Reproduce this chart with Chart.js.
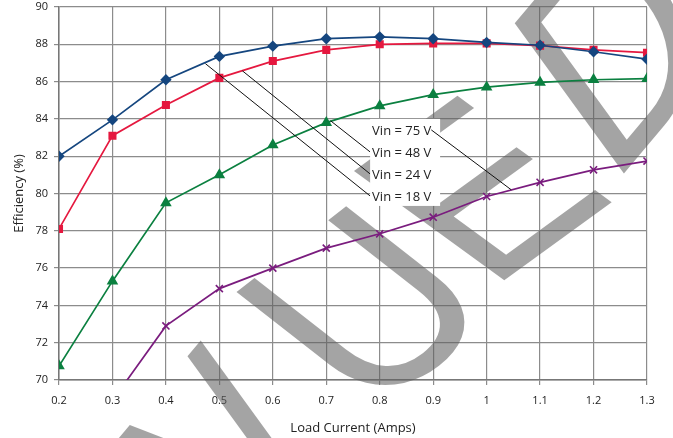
<!DOCTYPE html>
<html>
<head>
<meta charset="utf-8">
<script src="https://cdn.jsdelivr.net/npm/chart.js@4.4.1/dist/chart.umd.min.js"></script>
<style>
  html, body { margin: 0; padding: 0; background: #fff; }
  #chart { display: block; }
</style>
</head>
<body>
<canvas id="chart" width="673" height="438"></canvas>
<script>
// load current (A)
const loadCurrent = [0.2, 0.3, 0.4, 0.5, 0.6, 0.7, 0.8, 0.9, 1.0, 1.1, 1.2, 1.3];

// efficiency (%) per input voltage
const eff18 = [82.0, 83.95, 86.1, 87.35, 87.9, 88.3, 88.4, 88.3, 88.1, 87.95, 87.6, 87.2];
const eff24 = [78.1, 83.1, 84.75, 86.2, 87.1, 87.7, 88.0, 88.05, 88.05, 87.93, 87.7, 87.55];
const eff48 = [70.75, 75.3, 79.5, 81.0, 82.6, 83.8, 84.7, 85.3, 85.7, 85.96, 86.1, 86.16];
const eff75 = [null, 68.9, 72.9, 74.9, 76.0, 77.07, 77.84, 78.73, 79.84, 80.6, 81.27, 81.74];

const seriesNames = ["Vin = 18 V", "Vin = 24 V", "Vin = 48 V", "Vin = 75 V"];

// callout labels (data units)
const calloutX = 0.782;
const calloutY = [83.41, 82.23, 81.05, 79.87];   // 75, 48, 24, 18 V
const calloutText = ["Vin = 75 V", "Vin = 48 V", "Vin = 24 V", "Vin = 18 V"];

const FONT = '"Open Sans", "Noto Sans", sans-serif';

function pts(ys) {
  return loadCurrent.map((x, i) => ({ x: x, y: ys[i] }));
}

// the stamp over the page is not quite a straight rotated word,
// so each visible letter gets its own origin / baseline angle / stroke angle
const stampLetters = [
  { ch: "N", x: 209, y: 611, base: 50, down: 54 },
  { ch: "U", x: 368, y: 418, base: 38, down: 38 },
  { ch: "E", x: 488, y: 292, base: 36, down: 36 },
  { ch: "D", x: 611, y: 189, base: 50, down: 54 }
];

const watermark = {
  id: "watermark",
  beforeDatasetsDraw(chart) {
    const ctx = chart.ctx;
    ctx.save();
    ctx.fillStyle = "rgba(95,95,95,0.57)";
    ctx.font = '100px "Liberation Sans", Arial, sans-serif';
    ctx.textBaseline = "alphabetic";
    ctx.textAlign = "left";
    stampLetters.forEach(l => {
      const b = l.base * Math.PI / 180, d = l.down * Math.PI / 180;
      ctx.setTransform(2.45 * Math.cos(b), -2.45 * Math.sin(b),
                       2.7 * Math.cos(d), 2.7 * Math.sin(d), l.x, l.y);
      ctx.fillText(l.ch, 0, 0);
    });
    ctx.restore();
  }
};

const callouts = {
  id: "callouts",
  afterDatasetsDraw(chart) {
    const ctx = chart.ctx;
    const xs = chart.scales.x, ys = chart.scales.y;
    const lx = xs.getPixelForValue(calloutX);
    ctx.save();
    ctx.strokeStyle = "#111";
    ctx.lineWidth = 1;
    const lines = [
      [0.474, 86.96, lx, ys.getPixelForValue(calloutY[3])],
      [0.543, 86.58, lx, ys.getPixelForValue(calloutY[2])],
      [0.708, 83.9, lx, ys.getPixelForValue(calloutY[1])]
    ];
    lines.forEach(l => {
      ctx.beginPath();
      ctx.moveTo(xs.getPixelForValue(l[0]), ys.getPixelForValue(l[1]));
      ctx.lineTo(l[2], l[3]);
      ctx.stroke();
    });
    // white box behind the labels
    const top = ys.getPixelForValue(calloutY[0]) - 11;
    const bot = ys.getPixelForValue(calloutY[3]) + 10;
    ctx.fillStyle = "#fff";
    ctx.fillRect(lx, top, 70, bot - top);
    ctx.font = "13px " + FONT;
    ctx.fillStyle = "#222";
    ctx.textBaseline = "middle";
    ctx.textAlign = "left";
    calloutText.forEach((t, i) => {
      ctx.fillText(t, lx + 2, ys.getPixelForValue(calloutY[i]) + 1);
    });
    // 75 V leader runs down to the purple curve
    const w = ctx.measureText(calloutText[0]).width;
    ctx.beginPath();
    ctx.moveTo(lx + 2 + w, ys.getPixelForValue(calloutY[0]));
    ctx.lineTo(xs.getPixelForValue(1.046), ys.getPixelForValue(80.2));
    ctx.stroke();
    ctx.restore();
  }
};

new Chart(document.getElementById("chart"), {
  type: "line",
  data: {
    datasets: [
      { label: seriesNames[0], data: pts(eff18), borderColor: "#15467f", backgroundColor: "#15467f",
        pointStyle: "rectRot", pointRadius: 4.5, borderWidth: 1.7 },
      { label: seriesNames[1], data: pts(eff24), borderColor: "#e5183f", backgroundColor: "#e5183f",
        pointStyle: "rect", pointRadius: 4.5, borderWidth: 1.7 },
      { label: seriesNames[2], data: pts(eff48), borderColor: "#0b8040", backgroundColor: "#0b8040",
        pointStyle: "triangle", pointRadius: 5, borderWidth: 1.7 },
      { label: seriesNames[3], data: pts(eff75), borderColor: "#7a1c7e", backgroundColor: "#7a1c7e",
        pointStyle: "crossRot", pointRadius: 5, pointBorderWidth: 1.6, borderWidth: 1.7 }
    ]
  },
  options: {
    responsive: false,
    animation: false,
    layout: { padding: { top: 7, right: 26, left: 0, bottom: 0 } },
    plugins: { legend: { display: false }, tooltip: { enabled: false } },
    elements: { line: { tension: 0 } },
    scales: {
      x: {
        type: "linear", min: 0.2, max: 1.3,
        afterFit: s => { s.height = 58; },
        ticks: {
          stepSize: 0.1, color: "#222", padding: 9,
          font: { family: FONT, size: 11 },
          callback: v => String(Math.round(v * 10) / 10)
        },
        grid: { color: "#8c8c8c", lineWidth: 1.2, tickLength: 5 },
        border: { color: "#777", width: 1.5 },
        title: { display: true, text: "Load Current (Amps)", color: "#222",
                 font: { family: FONT, size: 13 }, padding: { top: 2, bottom: 2 } }
      },
      y: {
        min: 70, max: 90,
        afterFit: s => { s.width = 59; s.paddingTop = 0; s.paddingBottom = 0; },
        ticks: { stepSize: 2, color: "#222", padding: 6, font: { family: FONT, size: 11 } },
        grid: { color: "#8c8c8c", lineWidth: 1.2, tickLength: 5 },
        border: { color: "#777", width: 1.5 },
        title: { display: true, text: "Efficiency (%)", color: "#222",
                 font: { family: FONT, size: 13 }, padding: { top: 11, bottom: 11 } }
      }
    }
  },
  plugins: [watermark, callouts]
});
</script>
</body>
</html>
